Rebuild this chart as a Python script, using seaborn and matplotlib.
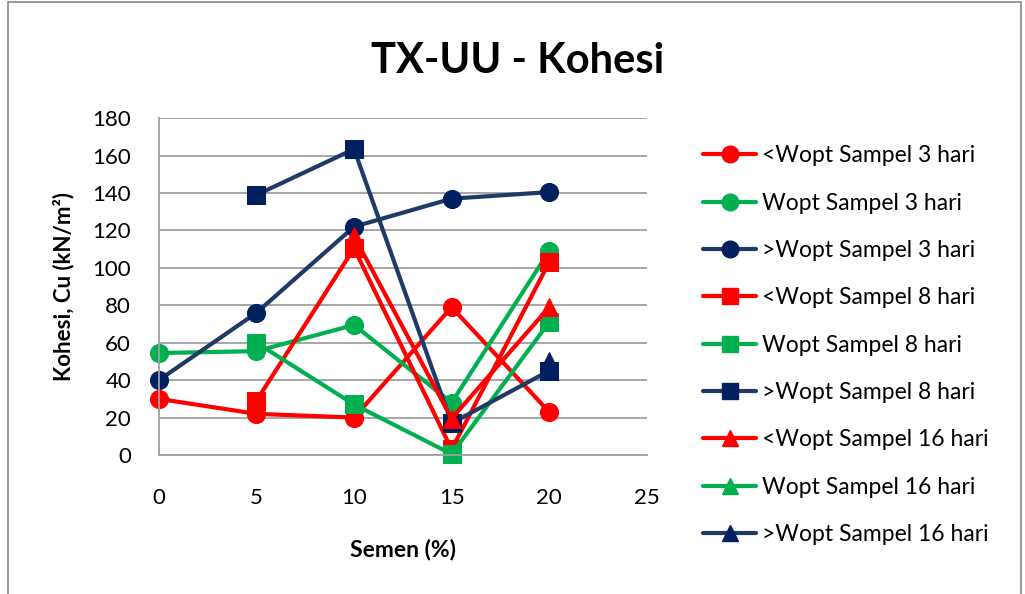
import numpy as np
import pandas as pd
import matplotlib.pyplot as plt
import matplotlib.patches as mpatches
from matplotlib.lines import Line2D
import seaborn as sns

# data (semen % vs kohesi)
semen = [0, 5, 10, 15, 20]
lt_3 = [30, 22, 20, 79, 23]
eq_3 = [54.5, 55.5, 69.5, 28, 109]
gt_3 = [40, 76, 122, 137, 140.5]
lt_8 = [np.nan, 29, 110.5, 3, 103]
eq_8 = [np.nan, 60, 27, 0.5, 71]
gt_8 = [np.nan, 139, 163.5, 17, 45]
lt_16 = [np.nan, np.nan, 117, 19.5, 79]
eq_16 = [np.nan, np.nan, np.nan, np.nan, np.nan]
gt_16 = [np.nan, np.nan, np.nan, np.nan, 50]

labels = ["<Wopt Sampel 3 hari", "Wopt Sampel 3 hari", ">Wopt Sampel 3 hari",
          "<Wopt Sampel 8 hari", "Wopt Sampel 8 hari", ">Wopt Sampel 8 hari",
          "<Wopt Sampel 16 hari", "Wopt Sampel 16 hari", ">Wopt Sampel 16 hari"]
series = [lt_3, eq_3, gt_3, lt_8, eq_8, gt_8, lt_16, eq_16, gt_16]

red, green, navy, navy_line = "#FF0000", "#00B050", "#002060", "#1F3A64"
line_cols = [red, green, navy_line] * 3
mark_cols = [red, green, navy] * 3
markers = ["o"] * 3 + ["s"] * 3 + ["^"] * 3

sns.set_style("white")
plt.rcParams["font.family"] = ["Lato", "DejaVu Sans"]
plt.rcParams["text.color"] = "black"
plt.rcParams["axes.labelcolor"] = "black"
plt.rcParams["xtick.color"] = "black"
plt.rcParams["ytick.color"] = "black"

fig = plt.figure(figsize=(10.25, 5.94), dpi=100)
ax = fig.add_axes([0.155, 0.234, 0.476, 0.567])

handles = []
for lab, vals, lc, mc, mk in zip(labels, series, line_cols, mark_cols, markers):
    df = pd.DataFrame({"semen": semen, "kohesi": vals}).dropna()
    if len(df) > 0:
        sns.lineplot(data=df, x="semen", y="kohesi", ax=ax, color=lc, lw=3,
                     marker=mk, markersize=13, markerfacecolor=mc,
                     markeredgecolor=mc, sort=False, estimator=None,
                     clip_on=False)
    handles.append(Line2D([], [], color=lc, lw=3, marker=mk, markersize=12,
                          markerfacecolor=mc, markeredgecolor=mc))

ax.set_xlim(0, 25)
ax.set_ylim(0, 180)
ax.set_xticks(range(0, 26, 5))
ax.set_yticks(range(0, 181, 20))
ax.yaxis.grid(True, color="#A0A0A0", lw=1.3)
ax.xaxis.grid(False)
ax.set_axisbelow(True)
for s in ["top", "right"]:
    ax.spines[s].set_visible(False)
for s in ["left", "bottom"]:
    ax.spines[s].set_color("#A0A0A0")
    ax.spines[s].set_linewidth(1.3)
ax.tick_params(axis="both", labelsize=16, length=0)
ax.tick_params(axis="x", pad=24)
ax.tick_params(axis="y", pad=20)
ax.set_xlabel("Semen (%)", fontsize=16.5, fontweight="bold", labelpad=22)
ax.set_ylabel("Kohesi, Cu (kN/m²)", fontsize=16, fontweight="bold", labelpad=13)

fig.suptitle("TX-UU - Kohesi", fontsize=30, fontweight="bold", x=0.505,
             y=1 - 61 / 594, va="center")

fig.legend(handles, labels, loc="upper left", bbox_to_anchor=(0.666, 0.79),
           frameon=False, fontsize=16.5, labelspacing=1.15, handlelength=2.3,
           handletextpad=0.25)

fig.patches.append(mpatches.Rectangle((0.008, -0.01), 0.988, 1.006,
                                      transform=fig.transFigure, fill=False,
                                      edgecolor="#888888", lw=1.2))

fig.savefig("out.png", dpi=100)
